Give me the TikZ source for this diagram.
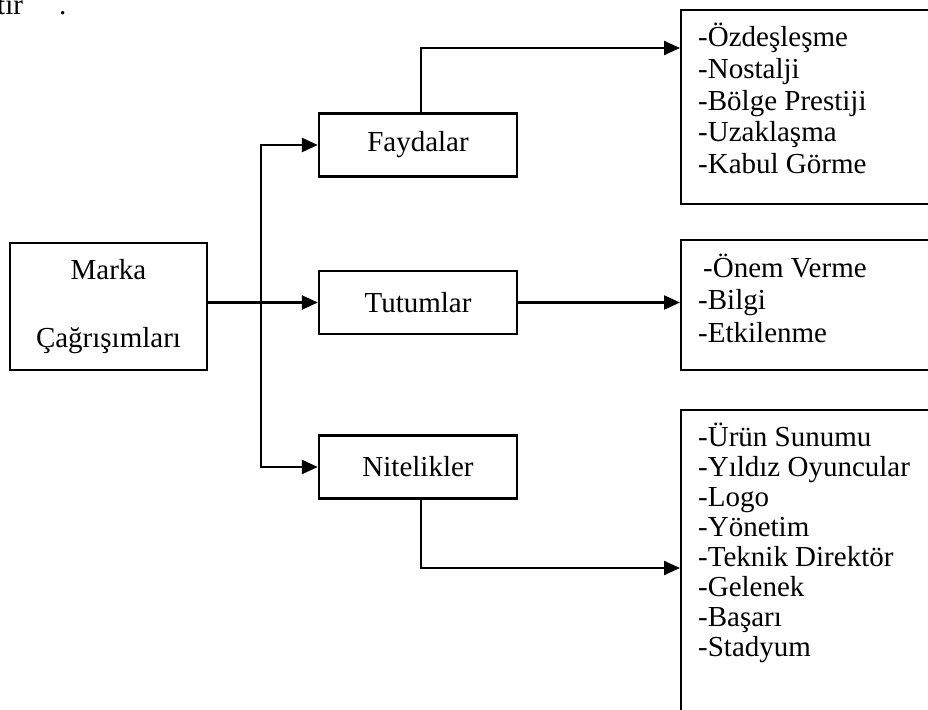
\documentclass[tikz,border=0pt]{standalone}
\usepackage{fontspec}
\setmainfont{Liberation Serif}
\usetikzlibrary{arrows.meta}
\begin{document}
\begin{tikzpicture}[x=1pt,y=-1pt,
  box/.style={draw, line width=2.3pt, minimum width=198pt, minimum height=63pt,
              inner sep=0pt, font=\fontsize{29}{34}\selectfont},
  listbox/.style={draw, line width=2.3pt, anchor=north west, inner sep=0pt,
                  minimum width=270pt},
  arr/.style={-{Triangle[length=16pt,width=14pt]}, line width=2.3pt},
  item/.style={anchor=base west, inner sep=0pt, font=\fontsize{29}{34}\selectfont}]

\useasboundingbox (0,0) rectangle (928,709);
\clip (0,0) rectangle (928,709);

% end of the preceding sentence
\node[item] (frag) at (-3,15) {tır};
\node[item] (dot) at (59,15) {.};

% main boxes
\node[box, minimum width=197pt, minimum height=127pt, align=center,
      font=\fontsize{29}{68}\selectfont] (marka) at (108.5,306.5) {Marka\\Çağrışımları};
\node[box] (fayda) at (418,145) {Faydalar};
\node[box] (tutum) at (418,302.5) {Tutumlar};
\node[box] (nitel) at (418,467) {Nitelikler};

% list boxes (running off the right/bottom edge)
\node[listbox, minimum height=194pt] (b1) at (680,9) {};
\node[listbox, minimum height=130pt] (b2) at (680,239) {};
\node[listbox, minimum height=330pt] (b3) at (680,409) {};

% connectors
\coordinate (split) at (261,302.5);
\coordinate (upper) at (680,48);
\coordinate (lower) at (680,568);
\draw[arr] (marka.east |- tutum.west) -- (tutum.west);
\draw[arr] (split) |- (fayda.west);
\draw[arr] (split) |- (nitel.west);
\draw[arr] ([xshift=3pt]fayda.north) |- (upper);
\draw[arr] (tutum.east) -- (tutum.east -| b2.west);
\draw[arr] ([xshift=3pt]nitel.south) |- (lower);

% list contents
\foreach \t [count=\i] in {-Özdeşleşme,-Nostalji,-Bölge Prestiji,-Uzaklaşma,-Kabul Görme}
  \node[item] (fa\i) at (698,{47+31.5*(\i-1)}) {\t};

\node[item] (tu1) at (703,277) {-Önem Verme};
\node[item] (tu2) at (698,309.5) {-Bilgi};
\node[item] (tu3) at (698,342) {-Etkilenme};

\foreach \t [count=\i] in {-Ürün Sunumu,-Yıldız Oyuncular,-Logo,-Yönetim,-Teknik Direktör,-Gelenek,-Başarı,-Stadyum}
  \node[item] (ni\i) at (698,{446+30*(\i-1)}) {\t};
\end{tikzpicture}
\end{document}
